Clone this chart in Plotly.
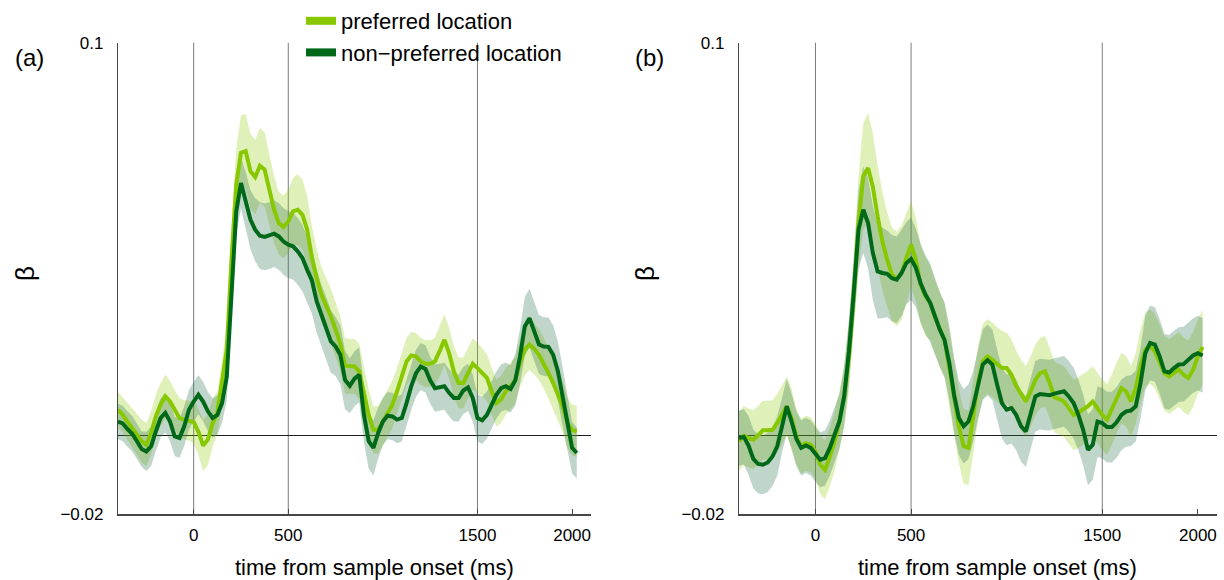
import numpy as np
import plotly.graph_objects as go

# ---------------- data (beta values in units of 1e-3) ----------------
time_ms = list(range(-400, 2026, 25))

a_pref = [6.6, 5.3, 3.6, 2.0, 0.3, -1.4, -2.3, 0.7, 4.9, 7.9, 10.0, 8.7, 6.6, 4.5, 4.1, 3.8,
          3.5, 1.0, -2.5, -1.0, 3.2, 5.8, 13.4, 22.0, 45.0,
          64.0, 72.0, 72.4, 67.3, 65.8, 68.7, 67.7, 62.6, 57.5, 54.1, 53.1, 54.5,
          57.1, 57.5, 56.2, 52.4, 45.2, 40.1, 35.9, 33.1, 30.4, 27.0, 23.4, 17.8,
          17.6, 17.6, 16.4, 10.4, 5.3, 1.5, 1.5, 3.6, 5.8, 7.9, 11.3, 15.3,
          18.9, 20.4, 20.2, 18.9, 18.3, 18.3, 18.9, 21.5, 24.4, 21.0, 16.4, 13.4,
          13.4, 15.9, 18.3, 17.2, 16.1, 14.7, 11.3, 8.3, 9.3, 11.3, 12.6, 14.2,
          18.5, 21.9, 23.2, 22.1, 20.6, 18.5, 15.9, 13.4, 10.4, 7.5, 3.2, 1.5, 1.1]
a_pref_sem = [4.5, 4.5, 4.8, 5, 5.2, 5.5, 5.5, 5.5, 5.5, 5.5, 5.5, 5.2, 5, 5, 5, 5,
              5.5, 6, 6.5, 6.5, 6, 5.5, 5.5, 6.5, 8,
              9, 9.5, 9.5, 9.5, 9.5, 9.5, 9.5, 9, 8.5, 8, 8, 8,
              8.5, 9, 9, 8.5, 8, 7.5, 7, 7, 7, 7, 7, 7,
              7, 7, 7, 7, 6.5, 6, 6, 6, 6, 6, 6, 6,
              6, 6, 6, 6, 6, 6, 6, 6.5, 6.5, 6.5, 6.5, 6.5,
              6.5, 6.5, 6.5, 6.5, 6, 6, 6, 6, 6, 6, 6, 6,
              6, 6.5, 6.5, 6.5, 6.5, 6.5, 6.5, 6.5, 6.5, 6.5, 6.5, 6.5, 6.5]
a_nonpref = [3.6, 3.1, 1.7, 0.5, -1.4, -3.4, -4.0, -2.7, 1.1, 4.5, 5.8, 3.6, -0.2, -0.6, 2.4, 6.6,
             8.7, 10.4, 8.7, 6.2, 4.5, 5.3, 8.3, 15.0, 36.0,
             57.0, 64.3, 60.1, 55.0, 52.4, 50.9, 50.6, 50.9, 51.4, 50.7, 49.4, 48.6,
             48.2, 46.9, 45.2, 42.2, 39.5, 34.2, 30.4, 27.4, 24.0, 22.7, 20.6, 14.2,
             12.7, 14.5, 15.5, 5.3, -1.4, -3.1, 0.7, 3.6, 5.1, 4.9, 4.1, 4.5,
             8.3, 12.6, 15.9, 17.6, 17.0, 14.1, 12.1, 12.3, 12.6, 10.9, 9.6, 9.6,
             11.5, 12.3, 9.6, 4.5, 3.9, 5.3, 7.9, 10.4, 12.1, 12.6, 11.9, 14.1,
             20.2, 27.8, 29.9, 26.5, 23.2, 22.7, 22.6, 20.6, 16.4, 10.0, 3.2, -3.1, -4.4]
a_nonpref_sem = [4.5, 4.5, 4.5, 4.5, 4.5, 4.5, 5, 5, 5, 5, 5, 5, 5, 5, 5, 5,
                 5, 5, 5, 5, 5, 5, 5, 6, 6,
                 6, 6.5, 7, 7.5, 8, 8.5, 8.5, 8.5, 8.5, 8.5, 8.5, 8.5,
                 8.5, 8.5, 8.5, 8.5, 8.5, 8, 8, 8, 8, 7.5, 7.5, 7.5,
                 7, 7, 7, 7, 7, 7, 6.5, 6, 6, 6, 6, 6,
                 6, 6, 6, 6, 6, 6, 6, 6, 6, 6, 6, 6,
                 6, 6, 6, 6, 6, 6, 6, 6, 6, 6, 6, 6.5,
                 7, 7.5, 7.5, 7.5, 7.5, 7.5, 7.5, 7.5, 7.5, 7.5, 7, 6.5, 6.5]

b_pref = [-1.4, 0.0, -0.6, -1.0, 0.1, 1.4, 1.4, 1.5, 3.2, 5.3, 7.5, 4.5, -0.2, -2.7, -1.9, -2.3,
          -4.0, -7.4, -8.7, -5.3, -1.4, 3.6, 10.0, 20.2, 35.5,
          54.1, 66.0, 68.1, 63.4, 55.8, 49.4, 44.8, 41.0, 39.9, 41.4, 45.2, 48.6,
          44.8, 38.4, 35.5, 33.8, 30.2, 27.0, 24.3, 17.2, 9.6, 2.4, -2.7, -3.1,
          4.9, 13.4, 18.9, 20.2, 19.3, 18.1, 17.2, 17.2, 15.5, 12.6, 10.4, 8.7,
          11.2, 14.2, 15.9, 16.4, 13.4, 9.8, 9.3, 8.7, 7.0, 5.3, 5.9, 6.6,
          7.5, 8.7, 7.0, 5.3, 4.1, 6.6, 9.6, 12.1, 11.3, 8.7, 12.1, 17.6,
          21.9, 22.7, 21.5, 18.5, 15.9, 15.1, 15.9, 16.8, 15.5, 14.7, 16.8, 20.2, 22.6]
b_pref_sem = [7.5, 7.5, 7.5, 7.5, 7.5, 7.5, 7.5, 7.5, 7.5, 7.5, 7.5, 7.5, 7, 7, 7, 7,
              7, 7.5, 7.5, 7.5, 7.5, 7.5, 8, 9, 10,
              12, 13.5, 14, 13.5, 13, 12.5, 12, 12, 12, 12, 11.5, 11,
              10.5, 10, 10, 9.5, 9.5, 9.5, 9.5, 9.5, 9.5, 9.5, 9.5, 9.5,
              9.5, 9.5, 9.5, 9.5, 9.5, 9.5, 9.5, 9, 9, 9, 9, 9,
              9, 9, 9, 9, 9, 9, 9, 9, 9, 9, 9, 9,
              9, 9, 9, 9, 9, 9, 9, 9, 9, 9, 9, 9.5,
              9.5, 9.5, 9.5, 9.5, 9.5, 9.5, 9.5, 9.5, 9.5, 9.5, 9.5, 9.5, 9.5]
b_nonpref = [-0.6, -0.3, -2.5, -5.9, -7.2, -7.4, -6.8, -5.3, -2.7, 2.8, 7.5, 3.6, -0.8, -3.1, -2.5, -3.1,
             -4.8, -6.1, -5.7, -3.1, 0.3, 3.6, 10.0, 21.5, 36.3,
             52.4, 57.5, 54.1, 46.5, 41.8, 41.4, 41.2, 40.1, 39.7, 41.4, 43.9, 45.0,
             42.7, 38.8, 35.9, 33.8, 30.4, 27.0, 24.4, 18.5, 10.4, 4.5, 2.4, 3.6,
             7.5, 13.2, 18.1, 19.2, 18.1, 13.0, 8.3, 6.6, 7.0, 5.3, 2.4, 1.1,
             5.3, 10.0, 10.6, 10.4, 10.3, 10.7, 11.0, 11.3, 10.0, 8.3, 5.3, 1.5,
             -3.6, -2.3, 3.6, 3.2, 2.2, 2.2, 3.4, 5.3, 6.2, 6.4, 7.5, 13.4,
             21.0, 23.6, 23.2, 20.2, 16.4, 16.1, 17.2, 18.1, 18.2, 19.3, 20.4, 21.0, 20.4]
b_nonpref_sem = [7, 7, 7.5, 7.5, 7.5, 7.5, 7.5, 7.5, 7.5, 7, 7, 7, 7, 7, 7, 7,
                 7, 7, 7, 7, 7, 7, 7.5, 8, 9,
                 10, 11, 11.5, 12, 12, 11.5, 11, 11, 11, 11, 10.5, 10.5,
                 10, 10, 10, 10, 9.5, 9.5, 9.5, 9.5, 9.5, 9.5, 9.5, 9.5,
                 9, 9, 9, 9, 9, 9, 9, 9, 9, 9, 9, 9,
                 9, 9, 9, 9, 9, 9, 9, 9, 9, 9, 9, 9,
                 9, 9, 9, 9, 9, 9, 9, 9, 9, 9, 9, 9,
                 9.5, 9.5, 9.5, 9.5, 9.5, 9.5, 9.5, 9.5, 9.5, 9.5, 9.5, 9.5, 9.5]

event_times = [0, 500, 1500]
x_ticks = [0, 500, 1500, 2000]
y_ticks = [-0.02, 0.1]
y_ticklabels = ["\u22120.02", "0.1"]
series_names = ["preferred location", "non\u2212preferred location"]

# ---------------- style ----------------
PREF_LINE = "rgb(135,200,0)"
NONPREF_LINE = "rgb(0,105,25)"
PREF_BAND = "rgba(140,200,0,0.28)"
NONPREF_BAND = "rgba(50,120,80,0.30)"
FONT = "Liberation Sans, Arial, Helvetica, sans-serif"
W, H = 1224, 580

t = np.array(time_ms, dtype=float)
SCALE = 1e-3

fig = go.Figure()


def add_panel(xa, ya, pref, pref_sem, nonpref, nonpref_sem):
    for mean, sem, col in ((pref, pref_sem, PREF_BAND), (nonpref, nonpref_sem, NONPREF_BAND)):
        m = np.array(mean) * SCALE
        s = np.array(sem) * SCALE
        fig.add_trace(go.Scatter(
            x=np.concatenate([t, t[::-1]]),
            y=np.concatenate([m + s, (m - s)[::-1]]),
            fill="toself", fillcolor=col, line=dict(width=0),
            mode="lines", hoverinfo="skip", showlegend=False,
            xaxis=xa, yaxis=ya))
    for mean, col in ((pref, PREF_LINE), (nonpref, NONPREF_LINE)):
        fig.add_trace(go.Scatter(
            x=t, y=np.array(mean) * SCALE, mode="lines",
            line=dict(color=col, width=4), showlegend=False,
            xaxis=xa, yaxis=ya))


add_panel("x", "y", a_pref, a_pref_sem, a_nonpref, a_nonpref_sem)
add_panel("x2", "y2", b_pref, b_pref_sem, b_nonpref, b_nonpref_sem)

# legend entries
for name, col in zip(series_names, (PREF_LINE, NONPREF_LINE)):
    fig.add_trace(go.Scatter(x=[None], y=[None], mode="lines", name=name,
                             line=dict(color=col, width=8), showlegend=True))

AXIS_COL = "rgb(70,70,70)"
y_dom = [(H - 514.3) / H, (H - 42.7) / H]
xdoms = {"xaxis": [118 / W, 591 / W], "xaxis2": [739 / W, 1217 / W]}

common_x = dict(range=[-400, 2100], tickmode="array", tickvals=x_ticks,
                ticks="inside", ticklen=5, tickcolor=AXIS_COL, showline=True,
                linecolor=AXIS_COL, linewidth=1.2, showgrid=False, zeroline=False,
                tickfont=dict(family=FONT, size=17, color="black"),
                ticklabelstandoff=5, automargin=False, fixedrange=True)
common_y = dict(range=[-0.02, 0.1], tickmode="array", tickvals=y_ticks,
                ticktext=y_ticklabels, ticks="inside", ticklen=5, tickcolor=AXIS_COL,
                showline=True, linecolor=AXIS_COL, linewidth=1.2, showgrid=False,
                zeroline=True, zerolinecolor="rgb(30,30,30)", zerolinewidth=1.3,
                tickfont=dict(family=FONT, size=17, color="black"),
                ticklabelstandoff=10, automargin=False, fixedrange=True, domain=y_dom)

fig.update_layout(
    xaxis=dict(domain=xdoms["xaxis"], anchor="y", **common_x),
    yaxis=dict(anchor="x", **common_y),
    xaxis2=dict(domain=xdoms["xaxis2"], anchor="y2", **common_x),
    yaxis2=dict(anchor="x2", **common_y),
)

# event lines (sample onset / offset / test onset)
for xr, yr in (("x", "y"), ("x2", "y2")):
    for ev in event_times:
        fig.add_shape(type="line", xref=xr, yref="paper", x0=ev, x1=ev,
                      y0=y_dom[0], y1=y_dom[1], layer="below",
                      line=dict(color="rgb(125,125,125)", width=1))

annots = []
for label, cx in (("(a)", 29), ("(b)", 649)):
    annots.append(dict(text=label, x=cx / W, y=1 - 57 / H, xref="paper", yref="paper",
                       showarrow=False, xanchor="center", yanchor="middle",
                       font=dict(family=FONT, size=24, color="black")))
for cx in (25, 645):
    annots.append(dict(text="\u03b2", x=cx / W, y=1 - 274 / H, xref="paper", yref="paper",
                       showarrow=False, textangle=-90, xanchor="center", yanchor="middle",
                       font=dict(family=FONT, size=26, color="black")))
for cx in (374, 997):
    annots.append(dict(text="time from sample onset (ms)", x=cx / W, y=1 - 567 / H,
                       xref="paper", yref="paper", showarrow=False,
                       xanchor="center", yanchor="middle",
                       font=dict(family=FONT, size=22, color="black")))

fig.update_layout(
    width=W, height=H, autosize=False,
    margin=dict(l=0, r=0, t=0, b=0, pad=0),
    paper_bgcolor="white", plot_bgcolor="white",
    annotations=annots,
    showlegend=True,
    legend=dict(x=301 / W, y=1.0, xanchor="left", yanchor="top",
                bgcolor="rgba(0,0,0,0)", borderwidth=0, tracegroupgap=0,
                font=dict(family=FONT, size=22, color="black"), itemwidth=30),
    font=dict(family=FONT),
)

fig.write_html("out.html", include_plotlyjs=True, full_html=True,
               config={"displayModeBar": False, "staticPlot": True},
               post_script="document.body.style.margin='0';document.body.style.padding='0';"
                           "document.body.style.overflow='hidden';")
